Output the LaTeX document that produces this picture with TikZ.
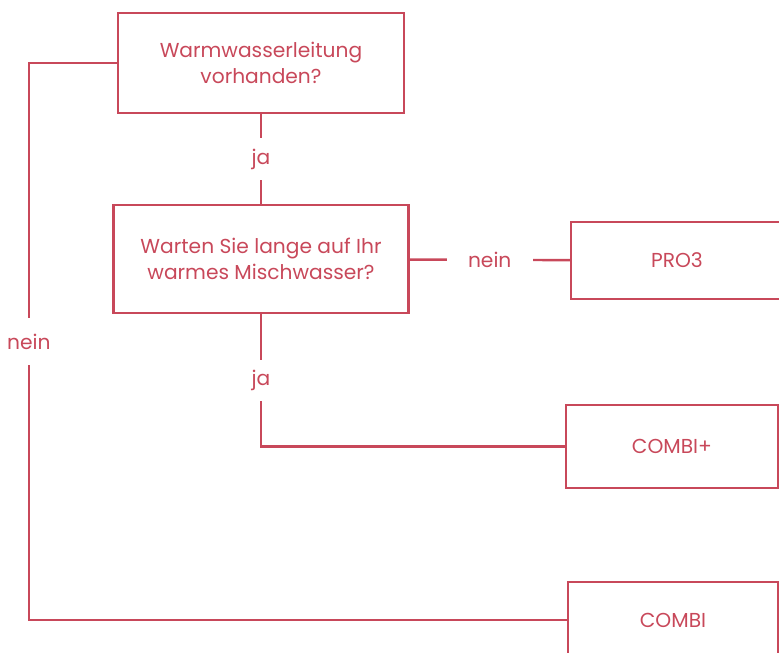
\documentclass[tikz,border=0pt]{standalone}
\usepackage{fontspec}
\setmainfont{Poppins}
\usetikzlibrary{positioning}
\definecolor{rot}{HTML}{C8485A}

\begin{document}
\begin{tikzpicture}[x=0.02cm,y=-0.02cm,line width=1.4pt,draw=rot]
            \tikzstyle{every node}=[font=\fontsize{11.5}{14.5}\selectfont,text=rot]
            \tikzstyle{box}=[draw,rectangle,align=center,inner sep=0pt,line width=1.4pt]
            \tikzstyle{lbl}=[fill=white,inner xsep=12pt,inner ysep=6pt]

            \useasboundingbox (0,0) rectangle (779,653);

            \node[box, minimum width=5.72cm, minimum height=2cm]    (leitung) at (261,63)  {Warmwasserleitung\\vorhanden?};
            \node[box, minimum width=5.9cm,  minimum height=2.16cm] (warten)  at (261,259) {Warten Sie lange auf Ihr\\warmes Mischwasser?};
            \node[box, minimum width=4.24cm, minimum height=1.54cm] (pro)     at (677,260.5) {PRO3};
            \node[box, minimum width=4.24cm, minimum height=1.66cm] (combip)  at (672,446.5) {COMBI+};
            \node[box, minimum width=4.2cm,  minimum height=1.52cm] (combi)   at (673,620) {COMBI};

            \draw (leitung) -- node[lbl] {ja} (warten);
            \draw (warten) -- node[lbl] {nein} (pro);
            \draw (warten.south) |- node[lbl, pos=0.25] {ja} (combip.west);
            \draw (leitung.west) -- ++(-88,0) |- node[lbl, pos=0.25, inner ysep=9pt] {nein} (combi.west);
\end{tikzpicture}
\end{document}
